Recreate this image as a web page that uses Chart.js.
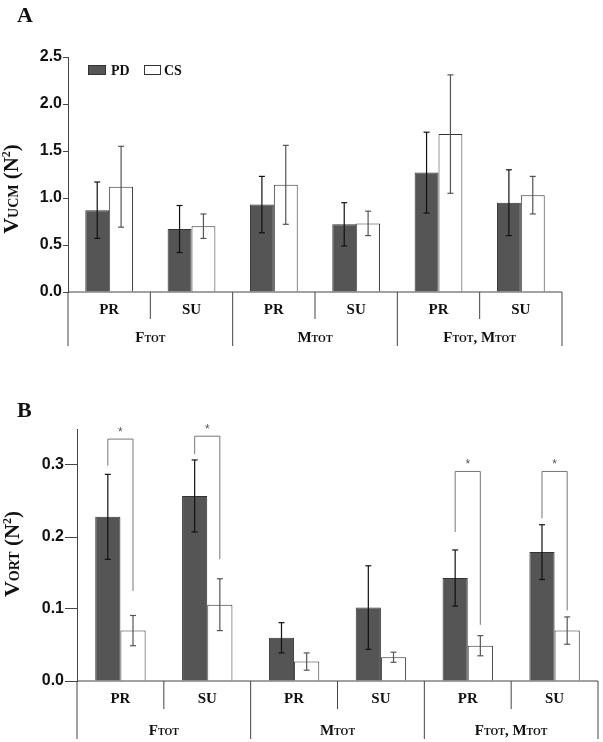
<!DOCTYPE html>
<html>
<head>
<meta charset="utf-8">
<script src="https://cdn.jsdelivr.net/npm/chart.js@4.4.0/dist/chart.umd.min.js"></script>
<style>
  body { margin: 0; background: #fff; width: 603px; height: 742px; position: relative; overflow: hidden; }
  canvas { position: absolute; left: 0; }
</style>
</head>
<body>
<canvas id="chartA" width="603" height="360" style="top:0"></canvas>
<canvas id="chartB" width="603" height="372" style="top:370px"></canvas>
<script>
// categories and groups (text after "_" is drawn as small caps subscript)
const categories = ["PR", "SU", "PR", "SU", "PR", "SU"];
const groups = ["F_TOT", "M_TOT", "F_TOT, M_TOT"];
const seriesNames = ["PD", "CS"];

// panel A: V_UCM
const ucmPD = [0.87, 0.67, 0.93, 0.72, 1.27, 0.95];
const ucmPDerr = [0.30, 0.25, 0.30, 0.23, 0.43, 0.35];
const ucmCS = [1.12, 0.70, 1.14, 0.73, 1.68, 1.03];
const ucmCSerr = [0.43, 0.13, 0.42, 0.13, 0.63, 0.20];
const ucmTicks = [0, 0.5, 1.0, 1.5, 2.0, 2.5];

// panel B: V_ORT
const ortPD = [0.228, 0.257, 0.060, 0.102, 0.143, 0.179];
const ortPDerr = [0.059, 0.050, 0.021, 0.058, 0.039, 0.038];
const ortCS = [0.070, 0.106, 0.027, 0.033, 0.049, 0.070];
const ortCSerr = [0.021, 0.036, 0.012, 0.007, 0.014, 0.019];
const ortTicks = [0, 0.1, 0.2, 0.3];

// significance brackets in panel B
const sigIndex = [0, 1, 4, 5];
const sigTop = [0.336, 0.340, 0.291, 0.291];
const sigLeftFrom = [0.299, 0.315, 0.207, 0.226];
const sigRightFrom = [0.125, 0.169, 0.078, 0.098];

const SERIF = '"Liberation Serif", "Times New Roman", serif';
const SANS = '"Liberation Sans", Arial, sans-serif';
const PD_FILL = "#555555";

function richParts(str, big, small) {
  const parts = [];
  str.split(/(_[A-Z]+)/).forEach(p => {
    if (!p) return;
    if (p[0] === "_") parts.push({ t: p.slice(1), s: small, dy: 0 });
    else parts.push({ t: p, s: big, dy: 0 });
  });
  return parts;
}

function drawRich(ctx, parts, cx, baseY) {
  let w = 0;
  parts.forEach(p => { ctx.font = `bold ${p.s}px ${SERIF}`; w += ctx.measureText(p.t).width; });
  let x = cx - w / 2;
  ctx.textAlign = "left";
  ctx.textBaseline = "alphabetic";
  parts.forEach(p => {
    ctx.font = `bold ${p.s}px ${SERIF}`;
    ctx.fillText(p.t, x, baseY + p.dy);
    x += ctx.measureText(p.t).width;
  });
}

function line(ctx, x1, y1, x2, y2) {
  ctx.beginPath();
  ctx.moveTo(x1, y1);
  ctx.lineTo(x2, y2);
  ctx.stroke();
}

function decor(cfg) {
  return {
    id: "decor",
    afterDatasetsDraw(chart) {
      const ctx = chart.ctx, y = chart.scales.y;
      cfg.errors.forEach((err, d) => {
        const meta = chart.getDatasetMeta(d);
        ctx.save();
        ctx.strokeStyle = cfg.errColors[d];
        ctx.lineWidth = 1.2;
        meta.data.forEach((bar, i) => {
          const v = chart.data.datasets[d].data[i];
          const hi = y.getPixelForValue(v + err[i]);
          const lo = y.getPixelForValue(v - err[i]);
          line(ctx, bar.x, hi, bar.x, lo);
          line(ctx, bar.x - 3, hi, bar.x + 3, hi);
          line(ctx, bar.x - 3, lo, bar.x + 3, lo);
        });
        ctx.restore();
      });
      if (cfg.sig) {
        const pd = chart.getDatasetMeta(0), cs = chart.getDatasetMeta(1);
        ctx.save();
        ctx.strokeStyle = "#777";
        ctx.fillStyle = "#555";
        ctx.lineWidth = 1;
        sigIndex.forEach((i, k) => {
          const xl = pd.data[i].x, xr = cs.data[i].x;
          const top = y.getPixelForValue(sigTop[k]);
          ctx.beginPath();
          ctx.moveTo(xl, y.getPixelForValue(sigLeftFrom[k]));
          ctx.lineTo(xl, top);
          ctx.lineTo(xr, top);
          ctx.lineTo(xr, y.getPixelForValue(sigRightFrom[k]));
          ctx.stroke();
          ctx.font = `12px ${SANS}`;
          ctx.textAlign = "center";
          ctx.textBaseline = "alphabetic";
          ctx.fillText("*", (xl + xr) / 2, top - 3);
        });
        ctx.restore();
      }
    },
    afterDraw(chart) {
      const ctx = chart.ctx, x = chart.scales.x;
      const { left, right, bottom } = chart.chartArea;
      ctx.save();
      ctx.strokeStyle = "#444";
      ctx.lineWidth = 1;
      line(ctx, left, bottom, right, bottom);
      for (let k = 0; k <= categories.length; k++) {
        let px;
        if (k === 0) px = left;
        else if (k === categories.length) px = right;
        else px = (x.getPixelForValue(k - 1) + x.getPixelForValue(k)) / 2;
        const len = k % 2 === 0 ? cfg.rowH[1] : cfg.rowH[0];
        line(ctx, px, bottom, px, bottom + len);
      }
      ctx.fillStyle = "#111";
      ctx.font = `bold 15px ${SERIF}`;
      ctx.textAlign = "center";
      ctx.textBaseline = "middle";
      categories.forEach((c, i) => ctx.fillText(c, x.getPixelForValue(i), bottom + cfg.catY));
      groups.forEach((g, j) => {
        const cx = (x.getPixelForValue(2 * j) + x.getPixelForValue(2 * j + 1)) / 2;
        drawRich(ctx, richParts(g, 15, 10), cx, bottom + cfg.grpY + 5);
      });

      // y axis title
      ctx.save();
      ctx.translate(cfg.titleX, cfg.titleY);
      ctx.rotate(-Math.PI / 2);
      drawRich(ctx, [
        { t: "V", s: 22, dy: 0 },
        { t: cfg.sub, s: 14, dy: 0 },
        { t: " (N", s: 21, dy: 0 },
        { t: "2", s: 12, dy: -8 },
        { t: ")", s: 21, dy: 0 }
      ], 0, 7);
      ctx.restore();

      // panel letter
      ctx.font = `bold 22px ${SERIF}`;
      ctx.textAlign = "left";
      ctx.textBaseline = "alphabetic";
      ctx.fillText(cfg.letter, 17, cfg.letterY);

      if (cfg.legend) {
        ctx.fillStyle = PD_FILL;
        ctx.fillRect(88, 65, 18, 10);
        ctx.strokeStyle = "#333";
        ctx.strokeRect(88.5, 65.5, 17, 9);
        ctx.fillStyle = "#fff";
        ctx.fillRect(144, 65, 17, 10);
        ctx.strokeRect(144.5, 65.5, 16, 9);
        ctx.fillStyle = "#111";
        ctx.font = `bold 14px ${SERIF}`;
        ctx.fillText(seriesNames[0], 111, 75);
        ctx.fillText(seriesNames[1], 164, 75);
      }
      ctx.restore();
    }
  };
}

function makeChart(id, pd, cs, pdErr, csErr, tickVals, max, opts) {
  new Chart(document.getElementById(id), {
    type: "bar",
    data: {
      labels: categories,
      datasets: [
        { label: seriesNames[0], data: pd, backgroundColor: PD_FILL, borderColor: "#333", borderWidth: 1 },
        { label: seriesNames[1], data: cs, backgroundColor: "#fff", borderColor: "#333", borderWidth: 1 }
      ]
    },
    options: {
      responsive: false,
      animation: false,
      events: [],
      categoryPercentage: 0.58,
      barPercentage: 1.0,
      layout: { padding: opts.padding },
      plugins: { legend: { display: false }, tooltip: { enabled: false } },
      scales: {
        x: { display: false },
        y: {
          min: 0,
          max: max,
          afterFit(s) { s.width = opts.axisLeft; },
          afterBuildTicks(s) { s.ticks = tickVals.map(v => ({ value: v })); },
          ticks: {
            padding: 1,
            color: "#111",
            font: { family: SANS, size: opts.tickSize, weight: "bold" },
            callback: v => Number(v).toFixed(1)
          },
          grid: { drawOnChartArea: false, tickLength: opts.tickLength, color: "#444" },
          border: { color: "#444", width: 1 }
        }
      }
    },
    plugins: [decor({
      errors: [pdErr, csErr],
      errColors: ["#111", "#555"],
      sig: opts.sig,
      rowH: opts.rowH,
      catY: opts.catY,
      grpY: opts.grpY,
      sub: opts.sub,
      titleX: opts.titleX,
      titleY: opts.titleY,
      letter: opts.letter,
      letterY: opts.letterY,
      legend: opts.legend
    })]
  });
}

makeChart("chartA", ucmPD, ucmCS, ucmPDerr, ucmCSerr, ucmTicks, 2.5, {
  padding: { top: 57, right: 41, bottom: 68, left: 0 },
  axisLeft: 68, tickLength: 5, tickSize: 16, rowH: [27, 54], catY: 18, grpY: 45,
  sub: "UCM", titleX: 11, titleY: 189, letter: "A", letterY: 22, legend: true, sig: false
});

makeChart("chartB", ortPD, ortCS, ortPDerr, ortCSerr, ortTicks, 0.35, {
  padding: { top: 59, right: 5, bottom: 61, left: 0 },
  axisLeft: 77, tickLength: 12, tickSize: 16, rowH: [28, 58], catY: 18, grpY: 49,
  sub: "ORT", titleX: 12, titleY: 184, letter: "B", letterY: 47, legend: false, sig: true
});
</script>
</body>
</html>
